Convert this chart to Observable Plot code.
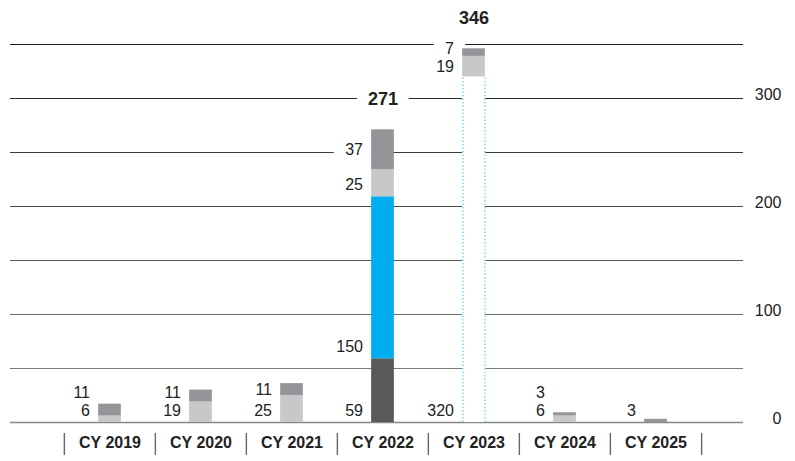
<!DOCTYPE html>
<html>
<head>
<meta charset="utf-8">
<script src="https://cdn.jsdelivr.net/npm/d3@7"></script>
<script src="https://cdn.jsdelivr.net/npm/@observablehq/plot@0.6"></script>
<style>
  html, body { margin: 0; padding: 0; background: #fff; }
  #chart svg { display: block; }
</style>
</head>
<body>
<div id="chart"></div>
<script>
// Calendar years along the x axis
const years = ["CY 2019", "CY 2020", "CY 2021", "CY 2022", "CY 2023", "CY 2024", "CY 2025"];

// Stacked segments, listed bottom to top
const darkGray  = [0, 0, 0, 59, 0, 0, 0];
const blue      = [0, 0, 0, 150, 0, 0, 0];
const outlined  = [0, 0, 0, 0, 320, 0, 0];
const lightGray = [6, 19, 25, 25, 19, 6, 0];
const midGray   = [11, 11, 11, 37, 7, 3, 3];

// Years whose stack total is printed above the bar
const totalShown = ["CY 2022", "CY 2023"];

// Right-hand axis labels and horizontal guide lines
const yTicks = [0, 100, 200, 300];
const gridValues = [0, 50, 100, 150, 200, 250, 300, 350];

// Layout
const W = 795, H = 461;
const mL = 63, mR = 93, mT = 44, mB = 39;
const yMax = 350;
const pxPerUnit = (H - mT - mB) / yMax;
const step = (W - mL - mR) / years.length;
const barHalf = 11.5;

const series = [
  {key: "dark", values: darkGray},
  {key: "blue", values: blue},
  {key: "outlined", values: outlined},
  {key: "light", values: lightGray},
  {key: "mid", values: midGray}
];
const fills = {dark: "#58595b", blue: "#00aeef", outlined: "#ffffff", light: "#c7c8ca", mid: "#939598"};

// Stack the segments and place each value label beside its segment,
// nudging labels upward so neighbouring ones never collide.
const segments = [];
const labels = [];
const totals = [];
years.forEach((year, i) => {
  const parts = series.filter(s => s.values[i] > 0);
  let base = 0;
  const stack = parts.map((s, j) => {
    const seg = {year, key: s.key, value: s.values[i], y1: base, y2: base + s.values[i], top: j === parts.length - 1};
    base += s.values[i];
    return seg;
  });
  segments.push(...stack);
  let prev = (11.5 - 18) / pxPerUnit;
  stack.forEach(d => {
    const center = (d.y1 + d.y2) / 2;
    let pos = d.top ? center : Math.min(center, d.y1 + 11.5 / pxPerUnit);
    pos = Math.max(pos, prev + 18 / pxPerUnit);
    prev = pos;
    labels.push({year, value: d.value, pos});
  });
  if (totalShown.includes(year)) totals.push({year, value: base});
});

const gridColor = d3.interpolateRgb("#8a8a8a", "#1c1c1c");
const labelOpts = {x: "year", y: "pos", text: d => String(d.value), textAnchor: "end", dx: -(barHalf + 8.5), fontSize: 16};
const totalOpts = {x: "year", y: "value", dy: -31, text: d => String(d.value), fontWeight: "bold", fontSize: 18};
const halo = {fill: "white", stroke: "white", strokeWidth: 24, strokeLinejoin: "round"};
const outlinedSegs = segments.filter(d => d.key === "outlined");

const chart = Plot.plot({
  width: W,
  height: H,
  marginLeft: mL,
  marginRight: mR,
  marginTop: mT,
  marginBottom: mB,
  x: {domain: years, padding: 0, axis: null},
  y: {domain: [0, yMax], axis: null},
  color: {type: "identity"},
  style: {fontFamily: "'Liberation Sans', Arial, sans-serif", fontSize: "16px", background: "#fff", color: "#222"},
  marks: [
    // guide lines, darker toward the top
    Plot.ruleY(gridValues.filter(v => v > 0), {
      y: d => d, stroke: d => gridColor(d / yMax), strokeWidth: 1.2, insetLeft: -53, insetRight: -41
    }),
    // white halos that break the guide lines behind the labels
    Plot.text(labels, {...labelOpts, ...halo}),
    Plot.text(totals, {...totalOpts, ...halo}),
    // baseline
    Plot.ruleY([0], {y: d => d, stroke: "#888", strokeWidth: 1.4, insetLeft: -53, insetRight: -41}),
    // segment values and totals
    Plot.text(labels, {...labelOpts, fill: "#222"}),
    Plot.text(totals, {...totalOpts, fill: "#222"}),
    // stacked bars; the outlined segment is white with dotted sides
    Plot.barY(outlinedSegs, {
      x: "year", y1: "y1", y2: "y2", fill: "#fff", insetLeft: step / 2 - barHalf, insetRight: step / 2 - barHalf
    }),
    Plot.ruleX(outlinedSegs, {
      x: "year", y1: "y1", y2: "y2", dx: -barHalf + 0.5, stroke: "#8dd6f6", strokeWidth: 1.6, strokeDasharray: "1.5,2"
    }),
    Plot.ruleX(outlinedSegs, {
      x: "year", y1: "y1", y2: "y2", dx: barHalf - 0.5, stroke: "#8dd6f6", strokeWidth: 1.6, strokeDasharray: "1.5,2"
    }),
    Plot.barY(segments.filter(d => d.key !== "outlined"), {
      x: "year", y1: "y1", y2: "y2", fill: d => fills[d.key], insetLeft: step / 2 - barHalf, insetRight: step / 2 - barHalf
    }),
    // category labels and separators
    Plot.text(years, {x: d => d, frameAnchor: "bottom", dy: 25, text: d => d, fontWeight: "bold", fontSize: 16, fill: "#222"}),
    Plot.ruleX(years, {x: d => d, dx: -step / 2, y1: -10.2, y2: -30.5, stroke: "#666", strokeWidth: 1.4}),
    Plot.ruleX([years[years.length - 1]], {x: d => d, dx: step / 2, y1: -10.2, y2: -30.5, stroke: "#666", strokeWidth: 1.4}),
    // right-hand value axis
    Plot.text(yTicks, {y: d => d, frameAnchor: "right", textAnchor: "end", dx: 79, dy: -4, text: d => String(d), fill: "#222", fontSize: 16})
  ]
});

document.getElementById("chart").appendChild(chart);
</script>
</body>
</html>
